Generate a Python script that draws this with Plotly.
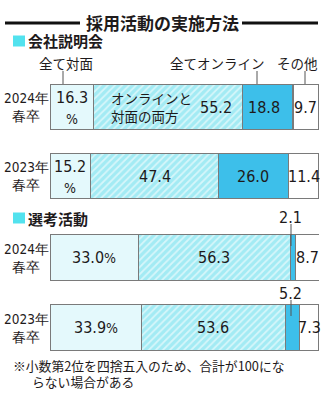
import plotly.graph_objects as go

# ---------------- data ----------------
years = ["2024年<br>春卒", "2023年<br>春卒"]
methods = ["全て対面", "オンラインと対面の両方", "全てオンライン", "その他"]
briefing_2024 = [16.3, 55.2, 18.8, 9.7]
briefing_2023 = [15.2, 47.4, 26.0, 11.4]
selection_2024 = [33.0, 56.3, 2.1, 8.7]
selection_2023 = [33.9, 53.6, 5.2, 7.3]

title = "採用活動の実施方法"
section1 = "会社説明会"
section2 = "選考活動"
note1 = "※小数第2位を四捨五入のため、合計が100にな"
note2 = "らない場合がある"

# ---------------- style ----------------
W, H = 331, 401
JP = "Noto Sans CJK JP, sans-serif"
NUM = "Liberation Sans Narrow, DejaVu Sans Condensed, Liberation Sans, sans-serif"
TXT = "#1e1a1b"
EDGE = "#7a7a7a"
fills = ["#e4f9fc", "#a3ebf4", "#3dbfea", "#ffffff"]


def px_x(p):
    return p / W


def px_y(p):
    return 1 - p / H


fig = go.Figure()

panels = [
    ("y", "x", [briefing_2024, briefing_2023]),
    ("y2", "x2", [selection_2024, selection_2023]),
]

for yref, xref, rows in panels:
    for k, m in enumerate(methods):
        vals = [r[k] for r in rows]
        marker = dict(color=fills[k], line=dict(color=EDGE, width=1.2))
        if k == 1:
            marker["pattern"] = dict(shape="/", bgcolor=fills[1], fgcolor="#d6f6fa",
                                     size=5, solidity=0.35, fillmode="replace")
        fig.add_trace(go.Bar(
            x=vals, y=years, orientation="h", name=m, marker=marker,
            xaxis=xref, yaxis=yref, showlegend=False, hoverinfo="x+name",
        ))

annotations = []
shapes = []


def ann(**kw):
    kw.setdefault("showarrow", False)
    kw.setdefault("xanchor", "center")
    kw.setdefault("yanchor", "middle")
    annotations.append(kw)


# segment value labels
for yref, xref, rows in panels:
    for ri, r in enumerate(rows):
        cum = 0
        for k, v in enumerate(r):
            c = cum + v / 2
            cum += v
            if v < 6:
                continue
            if k == 0:
                if yref == "y":
                    t = f"{v:.1f}<br><span style='font-size:14px'>%</span>"
                else:
                    t = f"{v:.1f}<span style='font-size:14px'>%</span>"
            else:
                t = f"{v:.1f}"
            xs = 0
            if yref == "y" and ri == 0 and k == 1:
                xs = 48
                ann(x=c, y=years[ri], xref=xref, yref=yref, xshift=-17,
                    text="オンラインと<br>対面の両方",
                    font=dict(family=JP, size=13.5, color=TXT), align="left")
            if yref == "y" and ri == 0 and k == 2:
                xs = -4
            ann(x=c, y=years[ri], xref=xref, yref=yref, xshift=xs,
                text=t, align="center",
                font=dict(family=NUM, size=16, color=TXT))

# small-segment labels (outside) for 全てオンライン in 選考活動
ann(x=px_x(290), y=px_y(217), xref="paper", yref="paper",
    text=f"{selection_2024[2]:.1f}", font=dict(family=NUM, size=16, color=TXT))
ann(x=px_x(290), y=px_y(293), xref="paper", yref="paper",
    text=f"{selection_2023[2]:.1f}", font=dict(family=NUM, size=16, color=TXT))
shapes.append(dict(type="line", xref="paper", yref="paper", x0=px_x(291), x1=px_x(291),
                   y0=px_y(224), y1=px_y(246), line=dict(color="#555", width=1)))
shapes.append(dict(type="line", xref="paper", yref="paper", x0=px_x(291), x1=px_x(291),
                   y0=px_y(300), y1=px_y(316), line=dict(color="#555", width=1)))

# labels above first bar
for txt, cx, lx in [(methods[0], 66, 63), (methods[2], 218, 257), (methods[3], 297, 305)]:
    ann(x=px_x(cx), y=px_y(63), xref="paper", yref="paper",
        text=txt, font=dict(family=JP, size=13.5, color=TXT))
    shapes.append(dict(type="line", xref="paper", yref="paper", x0=px_x(lx), x1=px_x(lx),
                       y0=px_y(71), y1=px_y(84), line=dict(color="#555", width=1)))

# year labels
for yref in ["y", "y2"]:
    for yr in years:
        ann(x=px_x(26), y=yr, xref="paper", yref=yref,
            text=yr, align="center",
            font=dict(family=NUM, size=13.5, color=TXT))

# title
ann(x=px_x(162), y=px_y(22), xref="paper", yref="paper",
    text=f"<b>{title}</b>", font=dict(family=JP, size=17, color=TXT))
shapes.append(dict(type="line", xref="paper", yref="paper", x0=px_x(5), x1=px_x(80),
                   y0=px_y(23), y1=px_y(23), line=dict(color="#111", width=2.8)))
shapes.append(dict(type="line", xref="paper", yref="paper", x0=px_x(242), x1=px_x(318),
                   y0=px_y(23), y1=px_y(23), line=dict(color="#111", width=2.8)))

# section headers
for txt, cy in [(section1, 41), (section2, 218)]:
    shapes.append(dict(type="rect", xref="paper", yref="paper",
                       x0=px_x(13), x1=px_x(25), y0=px_y(cy - 5.5), y1=px_y(cy + 5.5),
                       fillcolor="#52e2ee", line=dict(width=0)))
    ann(x=px_x(26), y=px_y(cy), xref="paper", yref="paper",
        xanchor="left", text=f"<b>{txt}</b>",
        font=dict(family=JP, size=15, color=TXT))

# footnote
ann(x=px_x(11), y=px_y(365), xref="paper", yref="paper",
    xanchor="left", text=note1, font=dict(family=JP, size=12.8, color=TXT))
ann(x=px_x(30), y=px_y(381), xref="paper", yref="paper",
    xanchor="left", text=note2, font=dict(family=JP, size=12.8, color=TXT))

xdom = [px_x(50), px_x(319)]
fig.update_layout(
    width=W, height=H, margin=dict(l=0, r=0, t=0, b=0),
    paper_bgcolor="white", plot_bgcolor="white",
    barmode="stack",
    xaxis=dict(domain=xdom, range=[0, 100], visible=False, fixedrange=True),
    xaxis2=dict(domain=xdom, range=[0, 100], visible=False, anchor="y2", fixedrange=True),
    yaxis=dict(domain=[px_y(210.5), px_y(72.5)], range=[1.5, -0.5], showticklabels=False,
               showgrid=False, zeroline=False, type="category", categoryorder="array",
               categoryarray=years),
    yaxis2=dict(domain=[px_y(362.5), px_y(222.5)], range=[1.5, -0.5], showticklabels=False,
                showgrid=False, zeroline=False, anchor="x2", type="category",
                categoryorder="array", categoryarray=years),
    bargap=0.34,
    annotations=annotations, shapes=shapes,
)

fig.write_html("out.html", config={"displayModeBar": False})
